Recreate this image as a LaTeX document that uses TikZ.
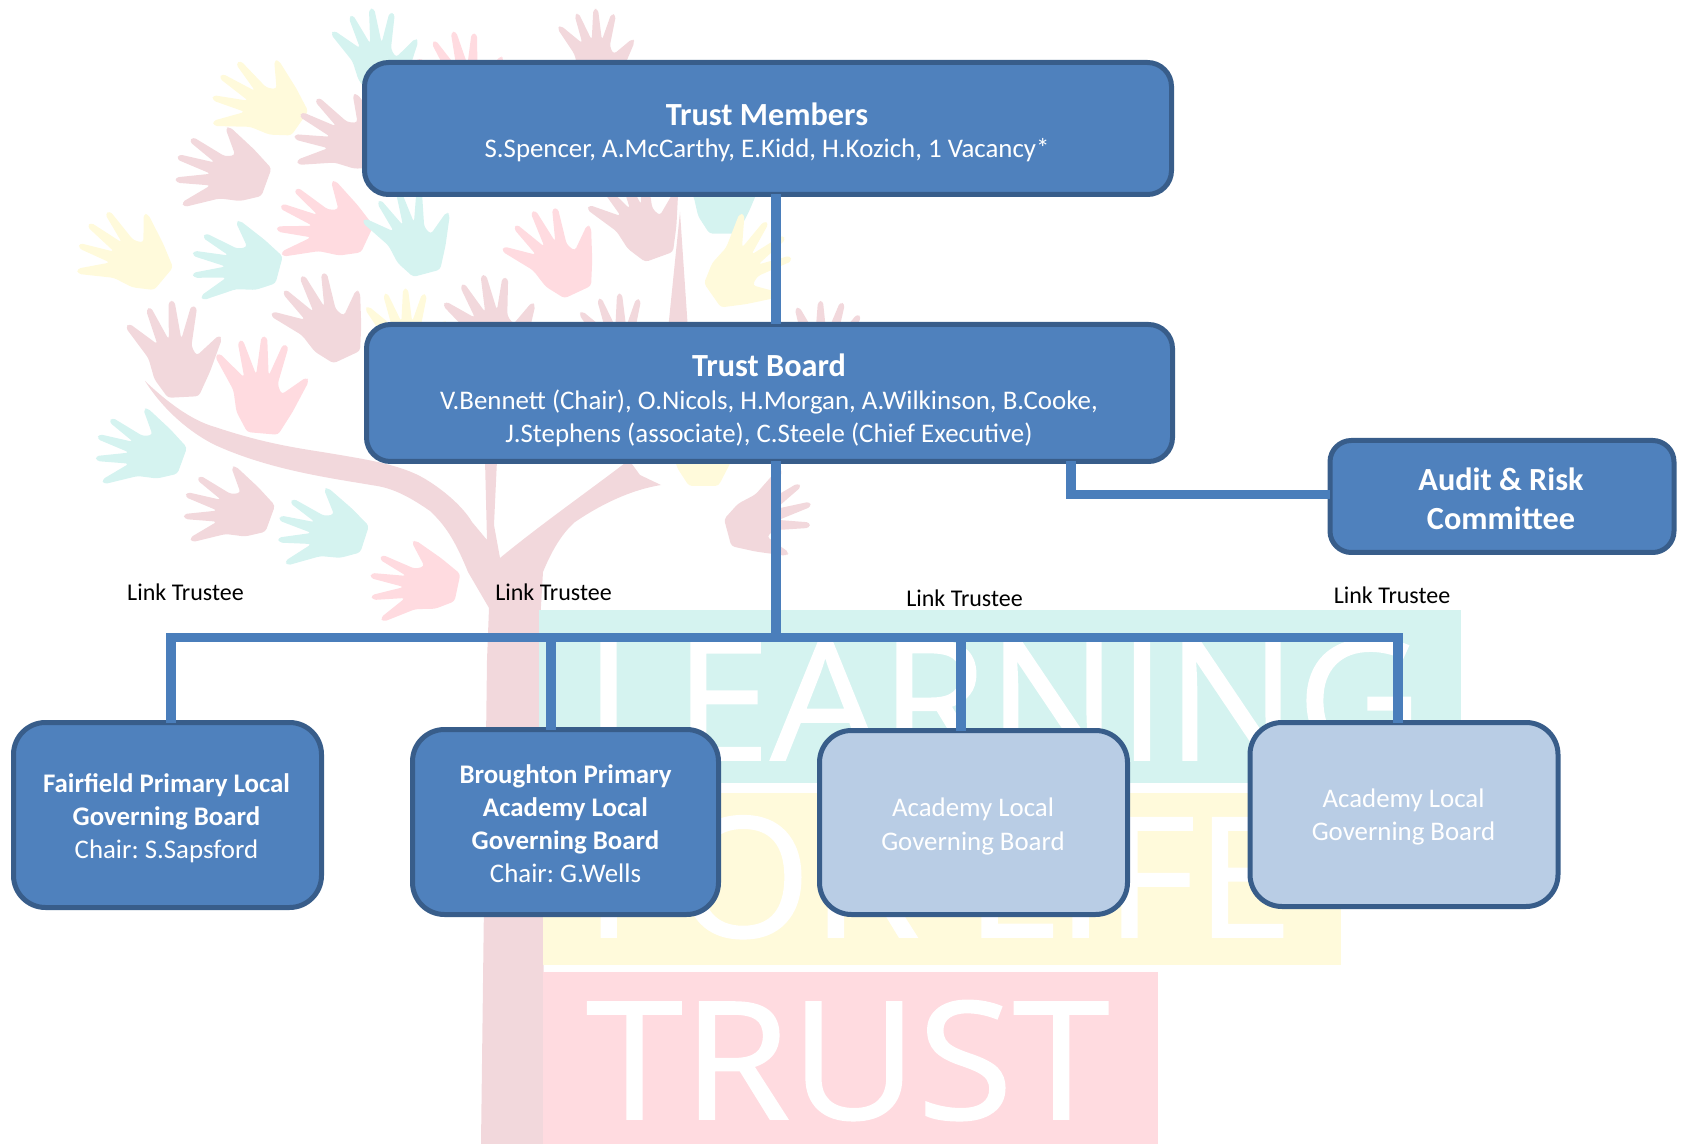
\documentclass[tikz,border=0pt]{standalone}
\usepackage{fontspec}
\usepackage{graphicx}
\setmainfont{Carlito}
\newfontfamily\wmfont[FakeBold=1]{Open Sans}
\definecolor{bluefill}{HTML}{4F81BD}
\definecolor{blueedge}{HTML}{385D8A}
\definecolor{palefill}{HTML}{B9CDE5}
\definecolor{linkline}{HTML}{4A7EBB}
\definecolor{mauve}{HTML}{F2D8DC}
\definecolor{rosa}{HTML}{FFDBE0}
\definecolor{teal2}{HTML}{D5F3F0}
\definecolor{yel}{HTML}{FFFADB}
\tikzset{
  orgbox/.style 2 args={draw=blueedge,fill=bluefill,line width=3.75pt,outer sep=0pt,inner sep=0pt,
     minimum width=#1*0.75pt,minimum height=#2*0.75pt},
  linkbar/.style={draw=linkline,line width=7.2pt},
  bodytext/.style={text=white,font=\fontsize{20.15}{24.8}\selectfont\frenchspacing,align=center,inner sep=0pt},
  headtext/.style={text=white,font=\fontsize{24.2}{29.5}\selectfont\bfseries,align=center,inner sep=0pt},
  labeltext/.style={text=black,font=\fontsize{18}{21}\selectfont,inner sep=0pt},
  wmark/.style={text=white,inner sep=0pt},
}
\newcommand{\hnd}[5]{\fill[#5,rounded corners=2.5pt,shift={(#1,#2)},rotate=#3,scale=0.92*#4]
 (-12,50)--(-25,30)--(-30,8)--(-52,-25)--(-48,-29)--(-20,-6)--(-30,-42)--(-25,-45)--(-8,-10)--(-6,-50)--(0,-50)--(5,-10)--(17,-44)--(23,-42)--(15,-2)--(20,8)--(44,-12)--(47,-8)--(33,25)--(20,50)--cycle;}
\begin{document}
\begin{tikzpicture}[x=0.75pt,y=-0.75pt]
\useasboundingbox (0,0) rectangle (1685,1144);
% background hands
\hnd{378}{52}{5}{0.95}{teal2}
\hnd{465}{74}{12}{0.95}{rosa}
\hnd{598}{48}{0}{0.85}{mauve}
\hnd{260}{100}{55}{1.0}{yel}
\hnd{222}{170}{70}{1.0}{mauve}
\hnd{342}{135}{60}{1.0}{mauve}
\hnd{324}{223}{65}{1.0}{rosa}
\hnd{412}{232}{15}{0.95}{teal2}
\hnd{126}{252}{50}{1.0}{yel}
\hnd{236}{262}{75}{0.95}{teal2}
\hnd{324}{317}{25}{1.0}{mauve}
\hnd{408}{330}{0}{0.9}{yel}
\hnd{494}{320}{10}{1.0}{mauve}
\hnd{555}{252}{25}{1.0}{rosa}
\hnd{640}{215}{20}{1.0}{mauve}
\hnd{720}{190}{0}{0.95}{teal2}
\hnd{748}{266}{-55}{1.0}{yel}
\hnd{622}{335}{0}{0.9}{mauve}
\hnd{830}{345}{-20}{0.95}{mauve}
\hnd{177}{349}{3}{1.05}{mauve}
\hnd{263}{385}{-5}{1.05}{rosa}
\hnd{140}{449}{70}{0.95}{teal2}
\hnd{228}{507}{70}{0.95}{mauve}
\hnd{322}{529}{72}{0.95}{teal2}
\hnd{414}{582}{78}{0.95}{rosa}
\hnd{700}{440}{0}{1.0}{yel}
\hnd{769}{518}{-75}{0.95}{mauve}
\hnd{805}{425}{-10}{0.8}{teal2}
% tree
\fill[mauve] (668,330)--(680,212)--(688,330)--cycle;
\fill[mauve] (481,1144)--(487,660)--(489,608)--(468,572)
  .. controls (455,540) and (445,525) .. (430,511)
  .. controls (400,490) and (385,487) .. (371,485)
  .. controls (330,478) and (270,470) .. (215,445)
  .. controls (185,430) and (160,405) .. (145,381)
  .. controls (165,400) and (190,420) .. (215,427)
  .. controls (260,442) and (290,447) .. (322,452)
  .. controls (370,460) and (405,465) .. (430,482)
  .. controls (450,495) and (465,510) .. (472,522)
  --(487,540)--(485,460)--(497,460)--(494,525)--(500,558)
  .. controls (540,525) and (590,490) .. (629,460)
  --(640,475)--(661,485)
  .. controls (630,490) and (600,505) .. (575,522)
  .. controls (560,535) and (550,555) .. (543,572)
  --(539,640)--(546,1144)--cycle;
% watermark panels
\fill[teal2] (539,610) rectangle (1461,783);
\fill[yel] (543,793) rectangle (1341,965);
\fill[rosa] (543,972) rectangle (1158,1144);
\node[wmark,anchor=south west] (wmA) at (584,762) {\wmfont\resizebox{838\dimexpr0.75pt\relax}{91pt}{LEARNING}};
\node[wmark,anchor=south west] (wmB) at (584,939) {\wmfont\resizebox{708\dimexpr0.75pt\relax}{91pt}{FOR LIFE}};
\node[wmark,anchor=south west] (wmC) at (586,1121) {\wmfont\resizebox{523\dimexpr0.75pt\relax}{89pt}{TRUST}};
% boxes
\node[orgbox={807}{132},rounded corners=18pt] (members) at (768,128.5) {};
\node[orgbox={806}{137},rounded corners=18pt] (board) at (769.5,393) {};
\node[orgbox={344}{112},rounded corners=16pt] (audit) at (1502,496.5) {};
\node[orgbox={308}{185},rounded corners=24pt] (fair) at (167.5,815) {};
\node[orgbox={306}{185},rounded corners=24pt] (brough) at (565.5,822) {};
\node[orgbox={308}{184},rounded corners=24pt,fill=palefill] (acadA) at (973.5,822.5) {};
\node[orgbox={308}{184},rounded corners=24pt,fill=palefill] (acadB) at (1404,814.5) {};
% connectors
\coordinate (spine) at (776,637.5);
\coordinate (busL) at (171,637.5);
\coordinate (busB) at (551,637.5);
\coordinate (busC) at (961,637.5);
\coordinate (busR) at (1398,637.5);
\coordinate (elbow) at (1071,494.5);
\draw[linkbar] (members.south -| spine) -- (board.north -| spine);
\draw[linkbar] (board.south -| spine) -- (spine);
\draw[linkbar] (board.south -| elbow) -- (elbow) -- (audit.west |- elbow);
\draw[linkbar] ([xshift=-3.5pt]busL) -- ([xshift=3.5pt]busR);
\draw[linkbar] (busL) -- (fair.north -| busL);
\draw[linkbar] (busB) -- (brough.north -| busB);
\draw[linkbar] (busC) -- (acadA.north -| busC);
\draw[linkbar] (busR) -- (acadB.north -| busR);
% texts
\node[headtext] (membersT) at (767,114) {Trust Members};
\node[bodytext] (membersS) at (767,150) {S.Spencer, A.McCarthy, E.Kidd, H.Kozich, 1 Vacancy*};
\node[headtext] (boardT) at (769,365) {Trust Board};
\node[bodytext] (boardS) at (769,418) {V.Bennett (Chair), O.Nicols, H.Morgan, A.Wilkinson, B.Cooke,\\J.Stephens (associate), C.Steele (Chief Executive)};
\node[headtext] (auditT) at (1501,498.5) {Audit \& Risk\\Committee};
\node[bodytext] (fairT) at (166.5,818) {\bfseries Fairfield Primary Local\\\bfseries Governing Board\\Chair: S.Sapsford};
\node[bodytext] (broughT) at (565.5,823.5) {\bfseries Broughton Primary\\\bfseries Academy Local\\\bfseries Governing Board\\Chair: G.Wells};
\node[bodytext] (acadAT) at (973,826.5) {Academy Local\\Governing Board};
\node[bodytext] (acadBT) at (1403.5,817) {Academy Local\\Governing Board};
\node[labeltext] (linkA) at (185.5,592.5) {Link Trustee};
\node[labeltext] (linkB) at (553.5,592.5) {Link Trustee};
\node[labeltext] (linkC) at (964.5,598) {Link Trustee};
\node[labeltext] (linkD) at (1392,595.5) {Link Trustee};
\end{tikzpicture}
\end{document}
